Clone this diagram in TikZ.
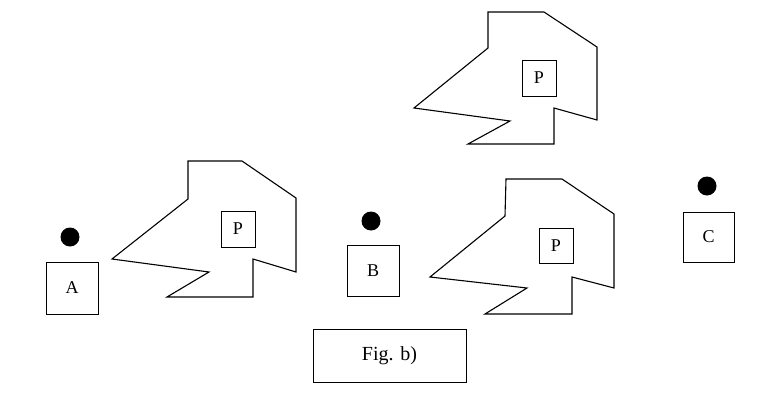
\documentclass[tikz,border=0pt]{standalone}
\usepackage{fontspec}
\setmainfont{Liberation Serif}
\begin{document}
\begin{tikzpicture}[x=1pt,y=-1pt,
  poly/.style={draw=black,line width=1.1pt,line join=miter},
  lbox/.style={draw=black,line width=1pt,inner sep=0pt,font=\fontsize{18}{20}\selectfont},
  dotmark/.style={fill=black,draw=none,circle,minimum size=19pt,inner sep=0pt}]
\useasboundingbox (0,0) rectangle (772,418);
% top polygon
\draw[poly] (488,12) -- (544,12) -- (597,47) -- (597,120) -- (554,108) -- (554,144) -- (468,144) -- (510,121) -- (414,108) -- (488,48) -- cycle;
\node[lbox,minimum width=34pt,minimum height=36pt] (p1) at (539,78) {P};
% left polygon
\draw[poly] (188,161) -- (242,161) -- (296,198) -- (296,272) -- (253,259) -- (253,297) -- (167,297) -- (209,272) -- (112,259) -- (188,199) -- cycle;
\node[lbox,minimum width=34pt,minimum height=36pt] (p2) at (238,229) {P};
% right polygon
\draw[poly] (506,179) -- (562,179) -- (614,214) -- (614,288) -- (572,277) -- (572,314) -- (485,314) -- (527,288) -- (430,277) -- (505,216) -- cycle;
\node[lbox,minimum width=34pt,minimum height=35pt] (p3) at (556,245.5) {P};
% A, B, C
\node[dotmark] (da) at (70,237) {};
\node[lbox,minimum width=52pt,minimum height=52pt] (a) at (72,288) {A};
\node[dotmark] (db) at (371,221) {};
\node[lbox,minimum width=52pt,minimum height=51pt] (b) at (373,270.5) {B};
\node[dotmark] (dc) at (707,186) {};
\node[lbox,minimum width=51pt,minimum height=50pt] (c) at (708.5,237) {C};
% caption
\node[draw=black,line width=1pt,minimum width=153pt,minimum height=53pt,inner sep=0pt,font=\fontsize{20}{22}\selectfont] (fig) at (389.5,355.5) {Fig. b)};
\end{tikzpicture}
\end{document}
